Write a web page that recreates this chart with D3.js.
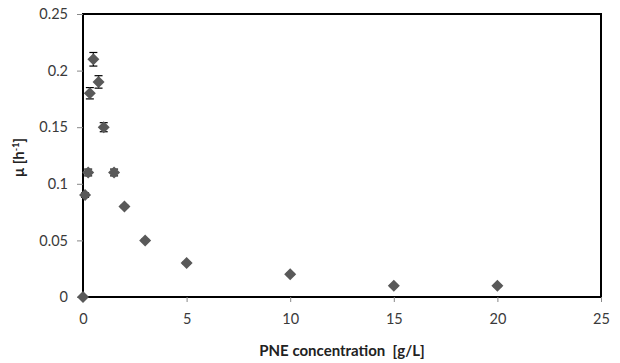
<!DOCTYPE html>
<html>
<head>
<meta charset="utf-8">
<script src="https://cdn.jsdelivr.net/npm/d3@7"></script>
<style>
body { margin: 0; background: #fff; }
text { font-family: Lato, "Open Sans", sans-serif; }
</style>
</head>
<body>
<div id="chart"></div>
<script>
// PNE concentration [g/L] and growth rate mu [h-1]
const conc = [0, 0.1, 0.25, 0.33, 0.5, 0.75, 1, 1.5, 2, 3, 5, 10, 15, 20];
const mu = [0, 0.09, 0.11, 0.18, 0.21, 0.19, 0.15, 0.11, 0.08, 0.05, 0.03, 0.02, 0.01, 0.01];
const err = [0, 0.002, 0.003, 0.005, 0.006, 0.0055, 0.004, 0.003, 0.001, 0.001, 0.001, 0.001, 0.001, 0.001];
const xTicks = [0, 5, 10, 15, 20, 25];
const yTicks = [0, 0.05, 0.1, 0.15, 0.2, 0.25];

const width = 620, height = 363;
const margin = { top: 14, right: 19, bottom: 66, left: 83 };

const svg = d3.select("#chart").append("svg")
    .attr("width", width)
    .attr("height", height);

const x = d3.scaleLinear().domain([0, 25]).range([margin.left, width - margin.right]);
const y = d3.scaleLinear().domain([0, 0.25]).range([height - margin.bottom, margin.top]);

const data = conc.map((c, i) => ({ c, m: mu[i], e: err[i] }));

// plot frame
svg.append("rect")
    .attr("x", x(0))
    .attr("y", y(0.25))
    .attr("width", x(25) - x(0))
    .attr("height", y(0) - y(0.25))
    .attr("fill", "none")
    .attr("stroke", "#000")
    .attr("stroke-width", 2);

const xAxis = svg.append("g")
    .attr("transform", `translate(0,${y(0)})`)
    .call(d3.axisBottom(x).tickValues(xTicks).tickSize(5).tickPadding(12).tickFormat(d3.format("d")));
xAxis.select(".domain").remove();
xAxis.selectAll("line").attr("stroke", "#888");
xAxis.selectAll("text").attr("font-size", 14.5).attr("fill", "#3a3a3a");

const yAxis = svg.append("g")
    .attr("transform", `translate(${x(0)},0)`)
    .call(d3.axisLeft(y).tickValues(yTicks).tickSize(6).tickPadding(9).tickFormat(d => d === 0 ? "0" : d3.format("")(d)));
yAxis.select(".domain").remove();
yAxis.selectAll("line").attr("stroke", "#888");
yAxis.selectAll("text").attr("font-size", 14.5).attr("fill", "#3a3a3a");

// error bars
const eb = svg.append("g").attr("stroke", "#000").attr("stroke-width", 1.2);
data.filter(d => d.e > 0).forEach(d => {
    eb.append("line").attr("x1", x(d.c)).attr("x2", x(d.c)).attr("y1", y(d.m - d.e)).attr("y2", y(d.m + d.e));
    [d.m - d.e, d.m + d.e].forEach(v => {
        eb.append("line").attr("x1", x(d.c) - 4).attr("x2", x(d.c) + 4).attr("y1", y(v)).attr("y2", y(v));
    });
});

// markers
svg.append("g").selectAll("path")
    .data(data)
    .join("path")
    .attr("transform", d => `translate(${x(d.c)},${y(d.m)})`)
    .attr("d", "M0,-6L6,0L0,6L-6,0Z")
    .attr("fill", "#595959");

// axis titles
svg.append("text")
    .attr("x", 342)
    .attr("y", 356)
    .attr("text-anchor", "middle")
    .attr("font-size", 15)
    .attr("font-weight", "bold")
    .attr("fill", "#222")
    .attr("xml:space", "preserve")
    .text("PNE concentration  [g/L]");

const yl = svg.append("text")
    .attr("transform", `translate(24,${(y(0) + y(0.25)) / 2 + 2}) rotate(-90)`)
    .attr("text-anchor", "middle")
    .attr("font-size", 15)
    .attr("font-weight", "bold")
    .attr("fill", "#222");
yl.append("tspan").text("μ [h");
yl.append("tspan").attr("font-size", 9).attr("dy", -5).text("-1");
yl.append("tspan").attr("dy", 5).text("]");
</script>
</body>
</html>
